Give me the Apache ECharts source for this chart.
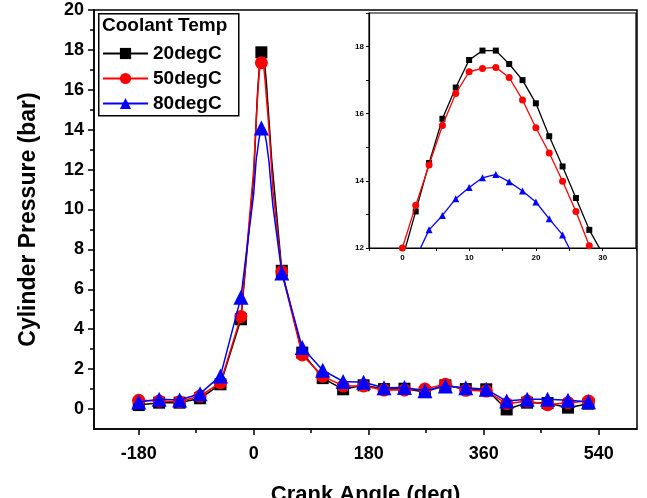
<!DOCTYPE html>
<html>
<head>
<meta charset="utf-8">
<script src="https://cdn.jsdelivr.net/npm/echarts@6/dist/echarts.min.js"></script>
<style>
  html, body { margin: 0; padding: 0; background: #fff; }
  #main { width: 647px; height: 498px; }
</style>
</head>
<body>
<div id="main"></div>
<script>
// crank angles where markers are drawn in the main plot
const markerAngles = [-180, -148, -116, -84, -52, -20, 12, 44, 76, 108, 140, 172, 204, 236, 268, 300, 332, 364, 396, 428, 460, 492, 524];
const p20 = [0.2, 0.32, 0.32, 0.54, 1.24, 4.5, 17.88, 6.93, 2.83, 1.55, 0.99, 1.19, 1.0, 1.02, 0.85, 1.19, 1.0, 0.99, -0.02, 0.32, 0.3, 0.07, 0.27];
const p50 = [0.44, 0.4, 0.37, 0.65, 1.32, 4.64, 17.35, 6.88, 2.71, 1.65, 1.16, 1.16, 0.95, 0.95, 1.0, 1.24, 0.94, 0.9, 0.27, 0.4, 0.22, 0.32, 0.4];
const p80 = [0.35, 0.49, 0.45, 0.77, 1.66, 5.6, 14.09, 6.82, 3.08, 1.95, 1.38, 1.34, 1.07, 1.08, 0.92, 1.16, 1.07, 0.99, 0.4, 0.49, 0.49, 0.44, 0.37];

// zoomed data around the peak (inset)
const insetAngles = [0, 2, 4, 6, 8, 10, 12, 14, 16, 18, 20, 22, 24, 26, 28, 30];
const z20 = [11.68, 13.09, 14.53, 15.85, 16.78, 17.6, 17.88, 17.88, 17.48, 17.0, 16.31, 15.33, 14.43, 13.49, 12.54, 11.83];
const z50 = [12.0, 13.27, 14.47, 15.65, 16.6, 17.25, 17.35, 17.38, 17.08, 16.41, 15.58, 14.83, 13.99, 13.09, 12.07, 11.0];
const z80 = [10.8, 11.7, 12.54, 12.97, 13.47, 13.8, 14.09, 14.19, 13.97, 13.7, 13.37, 12.87, 12.39, 11.6, 10.9, 10.2];

const names = ["20degC", "50degC", "80degC"];
const colors = ["#000000", "#ff0000", "#0000ff"];
const symbols = ["rect", "circle", "triangle"];

const xLabels = [-180, 0, 180, 360, 540];
const xTicksMinor = [-90, 90, 270, 450];
const yLabels = [0, 2, 4, 6, 8, 10, 12, 14, 16, 18, 20];
const yTicksMinor = [1, 3, 5, 7, 9, 11, 13, 15, 17, 19];

const FONT = "'Liberation Sans', Arial, sans-serif";

function mergeData(main, zoom) {
  const pts = [];
  markerAngles.forEach((a, i) => pts.push({ value: [a, main[i]] }));
  insetAngles.forEach((a, i) => {
    if (markerAngles.indexOf(a) < 0) pts.push({ value: [a, zoom[i]], symbol: "none" });
  });
  pts.sort((a, b) => a.value[0] - b.value[0]);
  return pts;
}

const mainVals = [p20, p50, p80];
const zoomVals = [z20, z50, z80];
const mainSizes = [12, 13, 15];
const insetSizes = [6, 7, 7];

const series = [];
names.forEach((n, i) => {
  series.push({
    name: n,
    type: "line",
    xAxisIndex: 0,
    yAxisIndex: 0,
    data: mergeData(mainVals[i], zoomVals[i]),
    symbol: symbols[i],
    symbolSize: mainSizes[i],
    showAllSymbol: true,
    color: colors[i],
    lineStyle: { width: 1.5, color: colors[i] },
    itemStyle: { color: colors[i] },
    z: 2 + i,
  });
});
names.forEach((n, i) => {
  series.push({
    name: n + " inset",
    type: "line",
    xAxisIndex: 2,
    yAxisIndex: 2,
    data: insetAngles.map((a, k) => [a, zoomVals[i][k]]),
    symbol: symbols[i],
    symbolSize: insetSizes[i],
    showAllSymbol: true,
    clip: true,
    lineStyle: { width: 1.3, color: colors[i] },
    itemStyle: { color: colors[i] },
    z: 12 + i,
  });
});

const axisLine = { show: true, onZero: false, lineStyle: { color: "#000", width: 1.5 } };
const label = { color: "#000", fontFamily: FONT, fontWeight: "bold" };

const chart = echarts.init(document.getElementById("main"));
chart.setOption({
  animation: false,
  backgroundColor: "#fff",
  grid: [
    { left: 94, right: 10, top: 10, bottom: 69, outerBoundsMode: "none", containLabel: false, show: true, borderColor: "#000", borderWidth: 1.5 },
    { left: 369, right: 11, top: 13, bottom: 250, outerBoundsMode: "none", containLabel: false, show: true, backgroundColor: "#fff", borderColor: "#000", borderWidth: 1.2, z: 10 },
  ],
  xAxis: [
    {
      gridIndex: 0, type: "value", min: -250, max: 600,
      axisLine: axisLine,
      splitLine: { show: false },
      axisTick: { show: true, length: 6, customValues: xLabels, lineStyle: { color: "#000", width: 1.5 } },
      axisLabel: Object.assign({ fontSize: 18, margin: 16, customValues: xLabels }, label),
      name: "Crank Angle (deg)", nameLocation: "middle", nameGap: 55,
      nameTextStyle: { fontSize: 22, fontWeight: "bold", fontFamily: FONT, color: "#000" },
    },
    {
      gridIndex: 0, type: "value", min: -250, max: 600, position: "bottom",
      axisLine: { show: false, onZero: false }, splitLine: { show: false },
      axisTick: { show: true, length: 4, customValues: xTicksMinor, lineStyle: { color: "#000", width: 1.5 } },
      axisLabel: { show: false },
    },
    {
      gridIndex: 1, type: "value", min: -5, max: 35, interval: 5,
      axisLine: { show: true, onZero: false, lineStyle: { color: "#000", width: 1.2 } },
      splitLine: { show: false },
      axisTick: { show: true, length: 3, lineStyle: { color: "#000" } },
      axisLabel: Object.assign({ fontSize: 8, margin: 6, formatter: v => (v % 10 === 0 ? v : "") }, label),
      z: 11,
    },
  ],
  yAxis: [
    {
      gridIndex: 0, type: "value", min: -1, max: 20,
      axisLine: axisLine,
      splitLine: { show: false },
      axisTick: { show: true, length: 6, customValues: yLabels, lineStyle: { color: "#000", width: 1.5 } },
      axisLabel: Object.assign({ fontSize: 18, margin: 10, customValues: yLabels }, label),
      name: "Cylinder Pressure (bar)", nameLocation: "middle", nameGap: 54,
      nameTextStyle: { fontSize: 23, fontWeight: "bold", fontFamily: FONT, color: "#000" },
    },
    {
      gridIndex: 0, type: "value", min: -1, max: 20, position: "left",
      axisLine: { show: false, onZero: false }, splitLine: { show: false },
      axisTick: { show: true, length: 4, customValues: yTicksMinor, lineStyle: { color: "#000", width: 1.5 } },
      axisLabel: { show: false },
    },
    {
      gridIndex: 1, type: "value", min: 12, max: 19, interval: 1,
      axisLine: { show: true, onZero: false, lineStyle: { color: "#000", width: 1.2 } },
      splitLine: { show: false },
      axisTick: { show: true, length: 3, lineStyle: { color: "#000" } },
      axisLabel: Object.assign({ fontSize: 8, margin: 5, formatter: v => (v % 2 === 0 ? v : "") }, label),
      z: 11,
    },
  ],
  legend: {
    data: names,
    orient: "vertical",
    left: 97,
    top: 39,
    itemWidth: 45,
    itemHeight: 14,
    itemGap: 6,
    z: 30,
    textStyle: { fontSize: 19, fontWeight: "bold", fontFamily: FONT, color: "#000" },
  },
  graphic: [
    {
      type: "rect", left: 98, top: 13, z: 20,
      shape: { width: 140, height: 102 },
      style: { fill: "#fff", stroke: "#000", lineWidth: 1.5 },
    },
    {
      type: "text", left: 102, top: 16, z: 21,
      style: { text: "Coolant Temp", fontSize: 19, fontWeight: "bold", fontFamily: FONT, fill: "#000" },
    },
  ],
  series: series,
});
</script>
</body>
</html>
